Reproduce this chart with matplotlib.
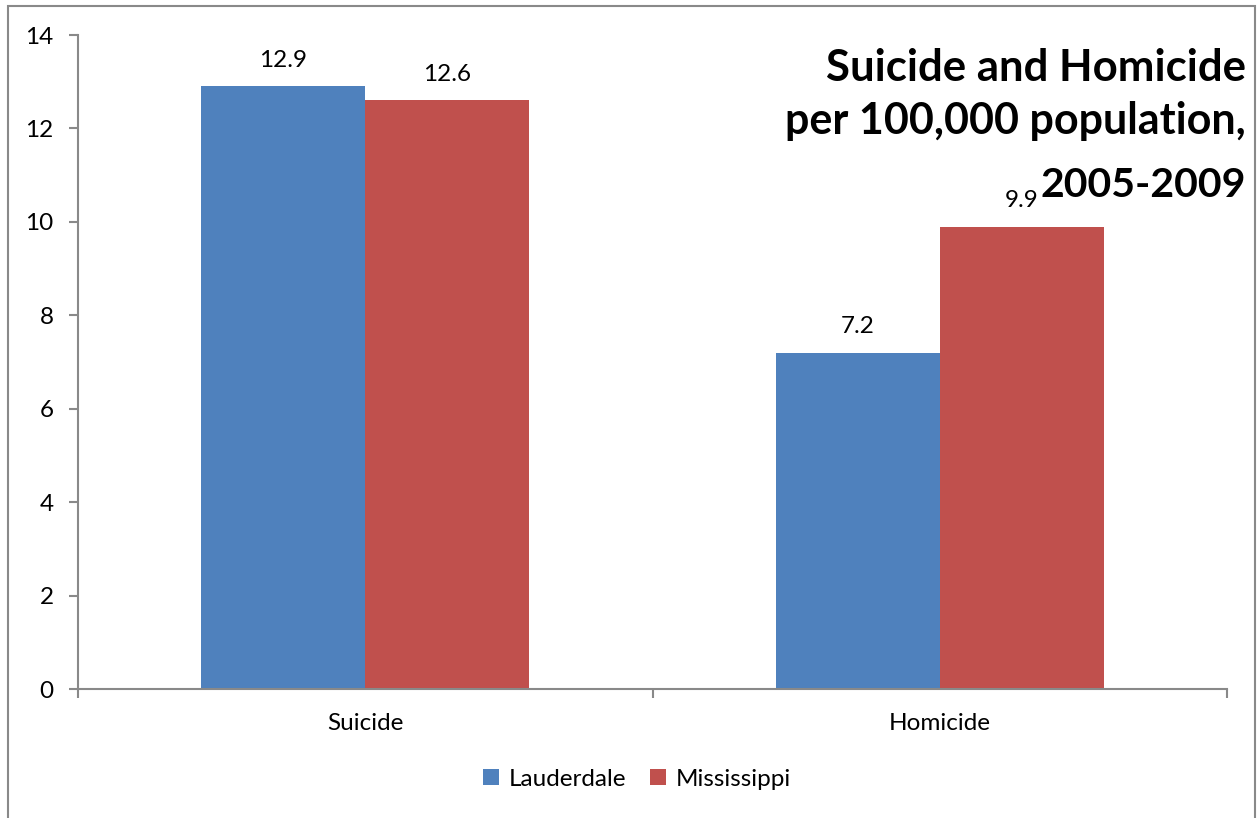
import matplotlib
matplotlib.use("Agg")
import matplotlib.pyplot as plt
import numpy as np
from matplotlib.patches import Rectangle

categories = ["Suicide", "Homicide"]
series = ["Lauderdale", "Mississippi"]
lauderdale = [12.9, 7.2]
mississippi = [12.6, 9.9]
title_lines = ["Suicide and Homicide", "per 100,000 population,", "2005-2009"]

C = {"Lauderdale": "#4f81bd", "Mississippi": "#c0504d"}
GREY = "#898989"
W, H = 1257, 818
FS = 17.5

plt.rcParams["font.family"] = ["Lato", "DejaVu Sans"]

fig = plt.figure(figsize=(W / 100, H / 100), dpi=100)
ax = fig.add_axes([78 / W, 1 - 689 / H, (1227 - 78) / W, (689 - 35) / H])

x = np.arange(len(categories))
w = 0.2855
for off, name, vals in [(-w / 2, "Lauderdale", lauderdale),
                        (w / 2, "Mississippi", mississippi)]:
    bars = ax.bar(x + off, vals, width=w, color=C[name], label=name, zorder=2)
    for b, v in zip(bars, vals):
        ax.annotate(f"{v:.1f}", (b.get_x() + b.get_width() / 2, v),
                    textcoords="offset points", xytext=(0, 14),
                    ha="center", va="baseline", fontsize=FS)

ax.set_xlim(-0.5, 1.5)
ax.set_ylim(0, 14)
ax.set_yticks(range(0, 15, 2))
ax.set_xticks(x)
ax.set_xticklabels(categories, fontsize=FS)
ax.set_xticks([-0.5, 0.5, 1.5], minor=True)
ax.tick_params(axis="x", which="major", length=0, pad=17)
ax.tick_params(axis="x", which="minor", length=6.5, color=GREY, width=1.5,
               direction="out")
ax.tick_params(axis="y", length=6.5, color=GREY, width=1.5, labelsize=FS,
               pad=11)
for s in ["top", "right"]:
    ax.spines[s].set_visible(False)
for s in ["left", "bottom"]:
    ax.spines[s].set_color(GREY)
    ax.spines[s].set_linewidth(1.5)

# title lines sit at uneven baselines in the original
for line, yb, fs in zip(title_lines, [81, 134, 197], [31.5, 31, 29.5]):
    fig.text(1246 / W, 1 - yb / H, line, ha="right", va="baseline",
             fontsize=fs, fontweight="bold")

ax.legend(loc="center", bbox_to_anchor=(637 / W, 1 - 779 / H), ncol=2,
          bbox_transform=fig.transFigure, frameon=False, fontsize=FS,
          handlelength=0.65, handleheight=0.65, handletextpad=0.4,
          columnspacing=1.0)

fig.patches.append(Rectangle((8 / W, -0.05), 1247 / W, 1.05 - 6 / H,
                             transform=fig.transFigure, fill=False,
                             edgecolor=GREY, lw=1.5))

fig.savefig("out.png", dpi=100)
